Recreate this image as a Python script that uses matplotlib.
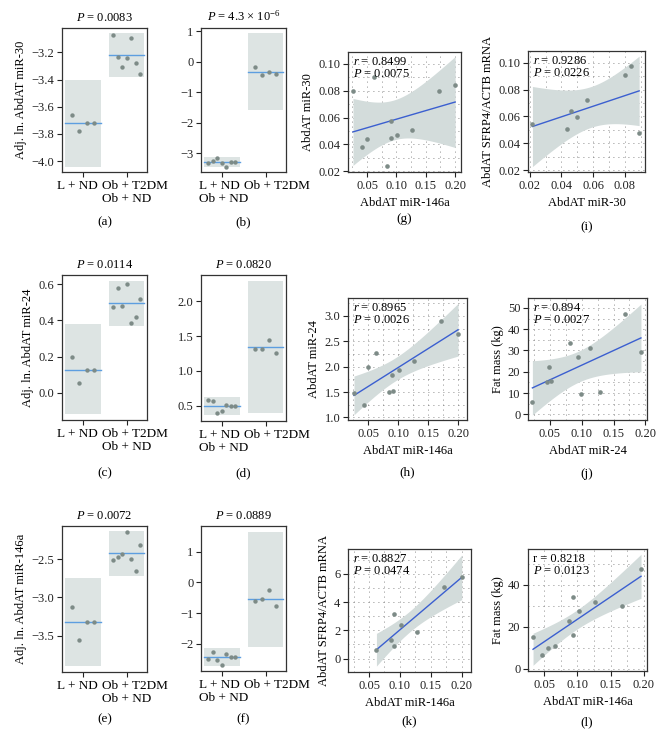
import numpy as np
import matplotlib
matplotlib.use('Agg')
import matplotlib.pyplot as plt
import matplotlib.transforms as mtransforms
from matplotlib.patches import Rectangle
from matplotlib.ticker import MultipleLocator, AutoMinorLocator

plt.rcParams['font.family'] = ['Liberation Serif', 'DejaVu Serif']
plt.rcParams['mathtext.fontset'] = 'custom'
plt.rcParams['mathtext.rm'] = 'Liberation Serif'
plt.rcParams['mathtext.it'] = 'Liberation Serif:italic'
plt.rcParams['font.size'] = 9

W, H = 666, 736

BOX_FILL = '#dde4e3'
DOT = '#7d8b87'
MEAN_LINE = '#5d9ee0'
BAND = '#d3dcdb'
FIT_LINE = '#3b5fd0'

# ---- group panels (a)-(f): box low, box high, centre line, points ----
lab_lnd = 'L + ND'
lab_obb = 'Ob + T2DM\nOb + ND'
lab_lnd_ob = 'L + ND\nOb + ND'
lab_t2 = 'Ob + T2DM'

a_lo = [-4.04, -3.38]
a_hi = [-3.40, -3.06]
a_mid = [-3.72, -3.22]
a_pts = [[-3.66, -3.78, -3.72, -3.72],
         [-3.07, -3.23, -3.31, -3.24, -3.09, -3.28, -3.36]]

b_lo = [-3.47, -1.60]
b_hi = [-3.12, 0.94]
b_mid = [-3.29, -0.34]
b_pts = [[-3.31, -3.25, -3.16, -3.34, -3.45, -3.29, -3.29],
         [-0.18, -0.43, -0.35, -0.40]]

c_lo = [-0.117, 0.369]
c_hi = [0.378, 0.618]
c_mid = [0.128, 0.497]
c_pts = [[0.20, 0.053, 0.128, 0.128],
         [0.472, 0.578, 0.48, 0.60, 0.387, 0.42, 0.515]]

d_lo = [0.366, 0.39]
d_hi = [0.63, 2.30]
d_mid = [0.50, 1.34]
d_pts = [[0.58, 0.57, 0.39, 0.42, 0.51, 0.50, 0.50],
         [1.32, 1.32, 1.45, 1.26]]

e_lo = [-3.895, -2.717]
e_hi = [-2.75, -2.135]
e_mid = [-3.325, -2.42]
e_pts = [[-3.13, -3.55, -3.325, -3.325],
         [-2.517, -2.474, -2.44, -2.145, -2.504, -2.66, -2.32]]

f_lo = [-2.73, -2.09]
f_hi = [-2.14, 1.65]
f_mid = [-2.43, -0.53]
f_pts = [[-2.49, -2.25, -2.52, -2.67, -2.32, -2.44, -2.44],
         [-0.61, -0.54, -0.25, -0.77]]

# ---- scatter panels (g)-(l) ----
g_x = [0.026, 0.042, 0.050, 0.0615, 0.084, 0.091, 0.091, 0.101, 0.127, 0.172, 0.200]
g_y = [0.0795, 0.0384, 0.044, 0.0897, 0.024, 0.0572, 0.045, 0.047, 0.0507, 0.080, 0.084]

h_x = [0.026, 0.042, 0.050, 0.062, 0.085, 0.091, 0.090, 0.101, 0.127, 0.172, 0.200]
h_y = [1.48, 1.25, 1.99, 2.26, 1.50, 1.53, 1.83, 1.93, 2.11, 2.89, 2.64]

i_x = [0.0217, 0.0438, 0.0459, 0.0495, 0.0564, 0.080, 0.0838, 0.089]
i_y = [0.0542, 0.0506, 0.0641, 0.0594, 0.0722, 0.0911, 0.0978, 0.0476]

j_x = [0.0227, 0.0457, 0.049, 0.052, 0.082, 0.0937, 0.0994, 0.1126, 0.128, 0.168, 0.193]
j_y = [5.6, 15.0, 22.1, 15.7, 33.6, 27.1, 9.5, 31.3, 10.4, 47.0, 29.1]

k_x = [0.062, 0.085, 0.090, 0.091, 0.101, 0.127, 0.172, 0.200]
k_y = [0.59, 1.30, 0.90, 3.15, 2.35, 1.86, 5.10, 5.80]

l_x = [0.033, 0.047, 0.055, 0.0666, 0.087, 0.093, 0.094, 0.102, 0.127, 0.168, 0.196]
l_y = [15.4, 6.7, 10.1, 11.0, 22.7, 34.3, 16.3, 27.6, 31.7, 29.7, 47.4]

# two-sided 95% t quantiles by degrees of freedom
T95 = {6: 2.447, 9: 2.262}


def add_ax(l, t, r, b):
    return fig.add_axes([l / W, 1 - b / H, (r - l) / W, (b - t) / H])


def style(ax):
    for s in ax.spines.values():
        s.set_linewidth(0.9)
        s.set_color('#333333')
    ax.tick_params(direction='out', length=3.5, width=0.8, colors='#222222',
                   labelsize=9, pad=2)


def group_panel(ax, lo, hi, mid, pts, labels, shifts, title, ylim, ystep, ylabel=None):
    for i in range(2):
        ax.add_patch(Rectangle((i - 0.41, lo[i]), 0.82, hi[i] - lo[i],
                               facecolor=BOX_FILL, edgecolor='none', zorder=1))
        ax.plot([i - 0.41, i + 0.41], [mid[i], mid[i]], color=MEAN_LINE,
                lw=1.0, zorder=2)
        n = len(pts[i])
        spread = 0.25 if n < 5 else 0.31
        xs = i + np.linspace(-spread, spread, n)
        ax.scatter(xs, pts[i], s=10, color=DOT, zorder=3, linewidths=0)
    ax.set_xlim(-0.48, 1.47)
    ax.set_ylim(*ylim)
    ax.yaxis.set_major_locator(MultipleLocator(ystep))
    ax.set_title(title, fontsize=9, pad=5)
    if ylabel:
        ax.set_ylabel(ylabel, fontsize=9, labelpad=3)
    style(ax)
    ax.set_xticks([0, 1])
    ax.set_xticklabels([])
    # group labels drawn as text so they can be nudged apart like the original
    base = mtransforms.blended_transform_factory(ax.transData, ax.transAxes)
    for i, (lbl, dx) in enumerate(zip(labels, shifts)):
        off = mtransforms.ScaledTranslation(dx / 100, -8 / 100, fig.dpi_scale_trans)
        ax.text(i, 0, lbl, transform=base + off, ha='center', va='top',
                multialignment='left', linespacing=1.15, fontsize=9.5)


def scatter_panel(ax, x, y, xlabel, ylabel, note, xlim, ylim, xstep, ystep):
    x = np.asarray(x)
    y = np.asarray(y)
    n = len(x)
    slope, icpt = np.polyfit(x, y, 1)
    xx = np.linspace(x.min(), x.max(), 100)
    yy = icpt + slope * xx
    resid = y - (icpt + slope * x)
    s = np.sqrt(np.sum(resid ** 2) / (n - 2))
    sxx = np.sum((x - x.mean()) ** 2)
    half = T95[n - 2] * s * np.sqrt(1 / n + (xx - x.mean()) ** 2 / sxx)
    ax.fill_between(xx, yy - half, yy + half, color=BAND, lw=0, zorder=1)
    ax.plot(xx, yy, color=FIT_LINE, lw=1.0, zorder=3)
    ax.scatter(x, y, s=11, color=DOT, zorder=4, linewidths=0)
    ax.set_xlim(*xlim)
    ax.set_ylim(*ylim)
    ax.xaxis.set_major_locator(MultipleLocator(xstep))
    ax.yaxis.set_major_locator(MultipleLocator(ystep))
    ax.xaxis.set_minor_locator(AutoMinorLocator(2))
    ax.yaxis.set_minor_locator(AutoMinorLocator(2))
    ax.grid(True, which='both', color='#666666', lw=0.6, ls=(0, (1, 5)), zorder=0)
    ax.set_axisbelow(True)
    ax.tick_params(which='minor', length=0)
    ax.set_xlabel(xlabel, fontsize=9, labelpad=4)
    ax.set_ylabel(ylabel, fontsize=9, labelpad=3)
    ax.text(0.04, 0.97, note, transform=ax.transAxes, va='top', ha='left',
            fontsize=9, linespacing=1.0, zorder=5)
    style(ax)


fig = plt.figure(figsize=(W / 100, H / 100), dpi=100)

left_shift = (-6, 8)
right_shift = (2, 11)

# row 1
ax = add_ax(62, 28, 147, 172)
group_panel(ax, a_lo, a_hi, a_mid, a_pts, [lab_lnd, lab_obb], left_shift, r'$P$ = 0.0083',
            (-4.08, -3.02), 0.2, 'Adj. ln. AbdAT miR-30')
ax = add_ax(201, 28, 286, 172)
group_panel(ax, b_lo, b_hi, b_mid, b_pts, [lab_lnd_ob, lab_t2], right_shift,
            r'$P$ = 4.3 × 10$^{-6}$', (-3.62, 1.1), 1)
ax = add_ax(348, 52, 461, 172)
scatter_panel(ax, g_x, g_y, 'AbdAT miR-146a', 'AbdAT miR-30',
              '$r$ = 0.8499\n$P$ = 0.0075', (0.0175, 0.21), (0.0196, 0.1086), 0.05, 0.02)
ax = add_ax(528, 51, 645, 172)
scatter_panel(ax, i_x, i_y, 'AbdAT miR-30', 'AbdAT SFRP4/ACTB mRNA',
              '$r$ = 0.9286\n$P$ = 0.0226', (0.0189, 0.0927), (0.0188, 0.1086), 0.02, 0.02)

# row 2
ax = add_ax(62, 275, 147, 420)
group_panel(ax, c_lo, c_hi, c_mid, c_pts, [lab_lnd, lab_obb], left_shift, r'$P$ = 0.0114',
            (-0.15, 0.65), 0.2, 'Adj. ln. AbdAT miR-24')
ax = add_ax(201, 275, 286, 421)
group_panel(ax, d_lo, d_hi, d_mid, d_pts, [lab_lnd_ob, lab_t2], right_shift, r'$P$ = 0.0820',
            (0.28, 2.38), 0.5)
ax = add_ax(348, 298, 467, 420)
scatter_panel(ax, h_x, h_y, 'AbdAT miR-146a', 'AbdAT miR-24',
              '$r$ = 0.8965\n$P$ = 0.0026', (0.016, 0.215), (0.95, 3.35), 0.05, 0.5)
ax = add_ax(528, 298, 647, 420)
scatter_panel(ax, j_x, j_y, 'AbdAT miR-24', 'Fat mass (kg)',
              '$r$ = 0.894\n$P$ = 0.0027', (0.0158, 0.2025), (-2.7, 54.7), 0.05, 10)

# row 3
ax = add_ax(62, 526, 147, 672)
group_panel(ax, e_lo, e_hi, e_mid, e_pts, [lab_lnd, lab_obb], left_shift, r'$P$ = 0.0072',
            (-3.97, -2.07), 0.5, 'Adj. ln. AbdAT miR-146a')
ax = add_ax(201, 526, 286, 671)
group_panel(ax, f_lo, f_hi, f_mid, f_pts, [lab_lnd_ob, lab_t2], right_shift, r'$P$ = 0.0889',
            (-2.88, 1.83), 1)
ax = add_ax(348, 549, 471, 672)
scatter_panel(ax, k_x, k_y, 'AbdAT miR-146a', 'AbdAT SFRP4/ACTB mRNA',
              '$r$ = 0.8827\n$P$ = 0.0474', (0.016, 0.215), (-0.95, 7.76), 0.05, 2)
ax = add_ax(528, 549, 647, 671)
scatter_panel(ax, l_x, l_y, 'AbdAT miR-146a', 'Fat mass (kg)',
              'r = 0.8218\n$P$ = 0.0123', (0.0254, 0.205), (-1, 57), 0.05, 20)

# panel letters
letters = [('(a)', 105, 222), ('(b)', 243, 222), ('(g)', 404, 219), ('(i)', 587, 227),
           ('(c)', 105, 473), ('(d)', 243, 473), ('(h)', 407, 472), ('(j)', 587, 474),
           ('(e)', 105, 719), ('(f)', 243, 719), ('(k)', 409, 721), ('(l)', 587, 722)]
for txt, x, y in letters:
    fig.text(x / W, 1 - y / H, txt, ha='center', va='center', fontsize=9.5)

fig.savefig('out.png', dpi=100)
